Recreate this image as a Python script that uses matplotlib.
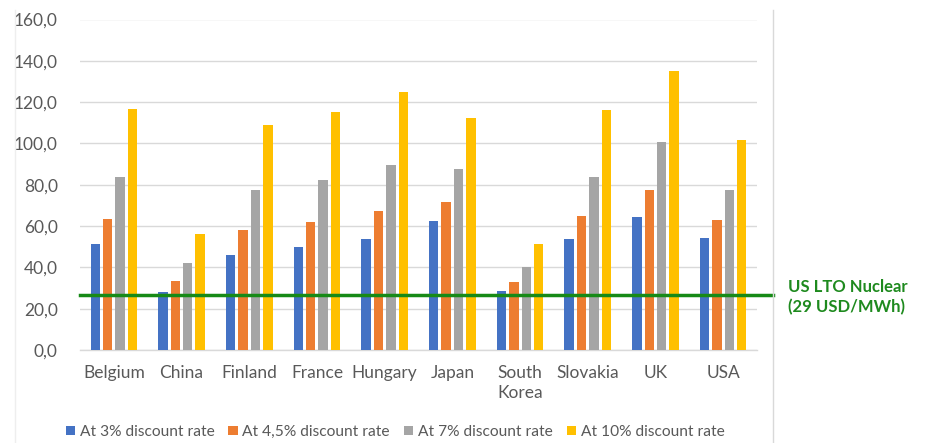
import matplotlib
matplotlib.use("Agg")
import matplotlib.pyplot as plt
import numpy as np
from matplotlib.patches import Patch

countries = ["Belgium", "China", "Finland", "France", "Hungary", "Japan",
             "South\nKorea", "Slovakia", "UK", "USA"]
series_names = ["At 3% discount rate", "At 4,5% discount rate",
                "At 7% discount rate", "At 10% discount rate"]
rate_3 = [51.1, 27.9, 45.8, 49.7, 53.7, 62.6, 28.4, 53.5, 64.2, 54.0]
rate_45 = [63.5, 33.4, 57.9, 62.1, 67.1, 71.8, 32.9, 65.0, 77.7, 62.9]
rate_7 = [83.9, 42.1, 77.4, 82.4, 89.7, 87.4, 40.0, 83.9, 100.5, 77.4]
rate_10 = [116.6, 56.3, 108.7, 115.2, 124.7, 112.4, 51.1, 116.1, 135.3, 101.6]
lto_level = 26.5
lto_label = "US LTO Nuclear\n(29 USD/MWh)"
yticks = [0, 20, 40, 60, 80, 100, 120, 140, 160]

colors = ["#4472C4", "#ED7D31", "#A5A5A5", "#FFC000"]
plt.rcParams['font.family'] = ['Lato', 'DejaVu Sans']

fig = plt.figure(figsize=(9.28, 4.43), dpi=100)
W, H = 928, 443
ax = fig.add_axes([80 / W, 1 - 350 / H, 677 / W, (350 - 19.5) / H])

x = np.arange(len(countries))
pitch = 0.183
width = 0.139
for i, (vals, c) in enumerate(zip([rate_3, rate_45, rate_7, rate_10], colors)):
    ax.bar(x + (i - 1.5) * pitch, vals, width=width, color=c, zorder=3,
           label=series_names[i])

ax.set_xlim(-0.5, len(countries) - 0.5)
ax.set_ylim(0, 160)
ax.set_yticks(yticks)
ax.set_yticklabels([f"{v:.1f}".replace(".", ",") for v in yticks])
ax.set_xticks(x)
ax.set_xticklabels(countries, linespacing=1.25)
ax.tick_params(axis='both', length=0, labelsize=12.5, colors="#595959")
ax.tick_params(axis='x', pad=11)
ax.tick_params(axis='y', pad=16)
ax.grid(axis='y', color="#D9D9D9", linewidth=1.0, zorder=0)
for s in ["top", "right", "left"]:
    ax.spines[s].set_visible(False)
ax.spines["bottom"].set_color("#D9D9D9")
ax.spines["bottom"].set_linewidth(1.0)

# LTO line
ax.axhline(lto_level, xmin=0, xmax=(773 - 80) / 677, color="#178A17",
           linewidth=2.5, zorder=5, clip_on=False)
ax.text(788 / W, 1 - 297 / H, lto_label, transform=fig.transFigure,
        color="#1E8A1E", fontsize=12, fontweight="bold", va="center",
        ha="left", linespacing=1.3)

# border lines
fig.add_artist(plt.Line2D([773 / W, 773 / W], [0, 1 - 10 / H],
                          transform=fig.transFigure, color="#D9D9D9", lw=1))
fig.add_artist(plt.Line2D([15 / W, 15 / W], [0, 1 - 10 / H],
                          transform=fig.transFigure, color="#EEEEEE", lw=1))

handles = [Patch(facecolor=c, edgecolor='none') for c in colors]
fig.legend(handles, series_names, loc="center", bbox_to_anchor=(395 / W, 1 - 432 / H),
           ncol=4, frameon=False, fontsize=11.2, handlelength=0.6, handleheight=0.6,
           handletextpad=0.3, columnspacing=0.9, labelcolor="#595959")

fig.savefig("out.png", dpi=100)
